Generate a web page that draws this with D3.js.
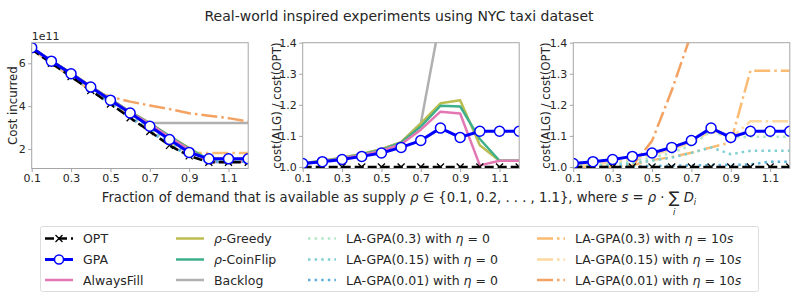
<!DOCTYPE html>
<html>
<head>
<meta charset="utf-8">
<script src="https://cdn.jsdelivr.net/npm/d3@7"></script>
<style>
body { margin: 0; background: #fff; }
text { font-family: 'DejaVu Sans', sans-serif; fill: #262626; }
</style>
</head>
<body>
<div id="app"></div>
<script>
'use strict'

// supply fraction rho
const rho = [0.1, 0.2, 0.3, 0.4, 0.5, 0.6, 0.7, 0.8, 0.9, 1.0, 1.1, 1.2]
const xTicks = [0.1, 0.3, 0.5, 0.7, 0.9, 1.1]
const costTicks = [2, 4, 6]
const ratioTicks = [1.0, 1.1, 1.2, 1.3, 1.4]

// panel 1: cost incurred (x 1e11)
const costOPT       = [6.66, 6.00, 5.38, 4.73, 4.10, 3.46, 2.82, 2.17, 1.68, 1.38, 1.38, 1.38]
const costGPA       = [6.73, 6.10, 5.51, 4.89, 4.28, 3.68, 3.06, 2.44, 1.84, 1.54, 1.54, 1.54]
const costAlwaysFill= [6.73, 6.10, 5.53, 4.91, 4.31, 3.71, 3.16, 2.56, 1.97, 1.39, 1.41, 1.41]
const costGreedy    = [6.74, 6.12, 5.54, 4.93, 4.33, 3.74, 3.21, 2.61, 2.04, 1.48, 1.41, 1.41]
const costCoinFlip  = [6.73, 6.11, 5.53, 4.92, 4.33, 3.73, 3.19, 2.60, 2.01, 1.50, 1.41, 1.41]
const costBacklog   = [6.74, 6.12, 5.54, 4.93, 4.33, 3.74, 3.21, 3.21, 3.21, 3.21, 3.21, 3.21]
const costLA03e0    = [6.67, 6.03, 5.43, 4.82, 4.22, 3.62, 3.02, 2.42, 1.84, 1.51, 1.51, 1.51]
const costLA015e0   = [6.66, 6.01, 5.41, 4.79, 4.18, 3.56, 2.95, 2.31, 1.75, 1.45, 1.45, 1.45]
const costLA001e0   = [6.66, 6.00, 5.38, 4.74, 4.11, 3.47, 2.83, 2.18, 1.69, 1.39, 1.40, 1.40]
const costLA03e10   = [6.66, 6.00, 5.38, 4.75, 4.19, 3.57, 2.95, 2.31, 1.81, 1.81, 1.81, 1.81]
const costLA015e10  = [6.68, 6.05, 5.46, 4.85, 4.26, 3.65, 3.05, 2.42, 1.84, 1.58, 1.58, 1.58]
const costLA001e10  = [6.66, 6.00, 5.38, 4.74, 4.44, 4.21, 4.03, 3.86, 3.67, 3.55, 3.44, 3.28]

// panels 2 and 3: cost(ALG) / cost(OPT)
const ratioOPT       = [1, 1, 1, 1, 1, 1, 1, 1, 1, 1, 1, 1]
const ratioGPA       = [1.011, 1.017, 1.024, 1.034, 1.045, 1.063, 1.085, 1.125, 1.095, 1.115, 1.115, 1.115]
const ratioAlwaysFill= [1.010, 1.017, 1.027, 1.038, 1.052, 1.073, 1.120, 1.178, 1.172, 1.005, 1.020, 1.020]
const ratioGreedy    = [1.012, 1.020, 1.030, 1.042, 1.057, 1.080, 1.140, 1.205, 1.215, 1.070, 1.020, 1.020]
const ratioCoinFlip  = [1.011, 1.018, 1.028, 1.040, 1.055, 1.078, 1.130, 1.197, 1.195, 1.090, 1.020, 1.020]
const ratioBacklog   = [1.012, 1.020, 1.030, 1.042, 1.057, 1.080, 1.140, 1.480, 1.910, 2.330, 2.330, 2.330]
const ratioLA03e0    = [1.002, 1.005, 1.010, 1.018, 1.030, 1.045, 1.070, 1.115, 1.095, 1.097, 1.097, 1.097]
const ratioLA015e0   = [1.000, 1.002, 1.005, 1.012, 1.020, 1.030, 1.045, 1.063, 1.041, 1.052, 1.052, 1.052]
const ratioLA001e0   = [1.000, 1.000, 1.000, 1.002, 1.003, 1.004, 1.005, 1.006, 1.006, 1.008, 1.017, 1.017]
const ratioLA03e10   = [1.000, 1.000, 1.000, 1.005, 1.022, 1.032, 1.046, 1.063, 1.079, 1.310, 1.310, 1.310]
const ratioLA015e10  = [1.003, 1.008, 1.015, 1.025, 1.040, 1.055, 1.080, 1.115, 1.093, 1.147, 1.147, 1.147]
const ratioLA001e10  = [1.000, 1.000, 1.000, 1.003, 1.084, 1.246, 1.430, 1.780, 2.180, 2.570, 2.490, 2.380]

const width = 798
const height = 299
const plotTop = 42.7
const plotBottom = 168.5
const plotW = 216.5
const lefts = [31.7, 302.7, 573.3]

// styles per series
const style = {
	OPT:        { color: '#000000', dash: '9,4', w: 2.5, marker: 'x' },
	GPA:        { color: '#0000ff', dash: null, w: 3, marker: 'o' },
	AlwaysFill: { color: '#e377b4', dash: null, w: 2.5 },
	Greedy:     { color: '#bcbd50', dash: null, w: 2.5 },
	CoinFlip:   { color: '#3daf8a', dash: null, w: 2.5 },
	Backlog:    { color: '#b0b0b0', dash: null, w: 2.5 },
	LA03e0:     { color: '#b3e6c6', dash: '2.5,4.1', w: 2.5 },
	LA015e0:    { color: '#7fd1d1', dash: '2.5,4.1', w: 2.5 },
	LA001e0:    { color: '#5db1da', dash: '2.5,4.1', w: 2.5 },
	LA03e10:    { color: '#fbbb72', dash: '16,4,2.5,4', w: 2.5 },
	LA015e10:   { color: '#fdd9a0', dash: '16,4,2.5,4', w: 2.5 },
	LA001e10:   { color: '#f4a262', dash: '16,4,2.5,4', w: 2.5 }
}

const svg = d3.select('#app').append('svg')
	.attr('width', width)
	.attr('height', height)

svg.append('text')
	.attr('x', 399).attr('y', 20.5)
	.attr('text-anchor', 'middle')
	.style('font-size', '14px')
	.text('Real-world inspired experiments using NYC taxi dataset')

const x = d3.scaleLinear().domain([0.1, 1.2]).range([0, plotW])

const drawPanel = (i, yDomain, yTicks, fmt, series, ylabel, ylabelX) => {
	const y = d3.scaleLinear().domain(yDomain).range([plotBottom - plotTop, 0])
	const g = svg.append('g').attr('transform', `translate(${lefts[i]}, ${plotTop})`)
	const h = plotBottom - plotTop

	g.append('clipPath').attr('id', 'clip' + i)
		.append('rect').attr('width', plotW).attr('height', h)

	const plot = g.append('g').attr('clip-path', `url(#clip${i})`)
	const line = d3.line().x((d, j) => x(rho[j])).y(d => y(d))

	series.forEach(([key, vals]) => {
		const s = style[key]
		plot.append('path')
			.attr('d', line(vals))
			.attr('fill', 'none')
			.attr('stroke', s.color)
			.attr('stroke-width', s.w)
			.attr('stroke-dasharray', s.dash)
			.attr('stroke-linejoin', 'round')
		if (s.marker === 'o') {
			plot.selectAll(null).data(vals).enter().append('circle')
				.attr('cx', (d, j) => x(rho[j])).attr('cy', d => y(d))
				.attr('r', 5).attr('fill', '#fff')
				.attr('stroke', s.color).attr('stroke-width', 1.5)
		}
		if (s.marker === 'x') {
			plot.selectAll(null).data(vals).enter().append('path')
				.attr('d', (d, j) => {
					const cx = x(rho[j]), cy = y(d), r = 3.5
					return `M${cx - r},${cy - r}L${cx + r},${cy + r}M${cx - r},${cy + r}L${cx + r},${cy - r}`
				})
				.attr('stroke', '#000').attr('stroke-width', 1.3)
		}
	})

	// frame
	g.append('rect').attr('width', plotW).attr('height', h)
		.attr('fill', 'none').attr('stroke', '#a6a6a6').attr('stroke-width', 1)

	const xAxis = g.append('g').attr('transform', `translate(0, ${h})`)
		.call(d3.axisBottom(x).tickValues(xTicks).tickSize(3.5).tickPadding(2.5).tickFormat(d3.format('.1f')))
	const yAxis = g.append('g')
		.call(d3.axisLeft(y).tickValues(yTicks).tickSize(3.5).tickPadding(2.5).tickFormat(fmt))
	;[xAxis, yAxis].forEach(a => {
		a.select('.domain').remove()
		a.selectAll('.tick line').attr('stroke', '#a6a6a6')
		a.selectAll('.tick text').style('font-size', '11px').style('font-family', "'DejaVu Sans', sans-serif").attr('fill', '#262626')
	})

	svg.append('text')
		.attr('transform', `translate(${ylabelX}, ${(plotTop + plotBottom) / 2}) rotate(-90)`)
		.attr('text-anchor', 'middle')
		.style('font-size', '11.8px')
		.text(ylabel)
	return y
}

drawPanel(0, [1.09, 6.96], costTicks, d3.format('d'), [
	['Backlog', costBacklog], ['LA001e10', costLA001e10], ['LA03e10', costLA03e10], ['LA015e10', costLA015e10],
	['Greedy', costGreedy], ['CoinFlip', costCoinFlip], ['AlwaysFill', costAlwaysFill],
	['LA03e0', costLA03e0], ['LA015e0', costLA015e0], ['LA001e0', costLA001e0],
	['OPT', costOPT], ['GPA', costGPA]
], 'Cost incurred', 17)

svg.append('text').attr('x', lefts[0]).attr('y', 39.5)
	.style('font-size', '11px').text('1e11')

drawPanel(1, [0.995, 1.4], ratioTicks, d3.format('.1f'), [
	['Backlog', ratioBacklog], ['Greedy', ratioGreedy], ['CoinFlip', ratioCoinFlip],
	['AlwaysFill', ratioAlwaysFill], ['OPT', ratioOPT], ['GPA', ratioGPA]
], 'cost(ALG) / cost(OPT)', 280.5)

drawPanel(2, [0.995, 1.4], ratioTicks, d3.format('.1f'), [
	['LA001e10', ratioLA001e10], ['LA03e10', ratioLA03e10], ['LA015e10', ratioLA015e10],
	['LA03e0', ratioLA03e0], ['LA015e0', ratioLA015e0], ['LA001e0', ratioLA001e0],
	['OPT', ratioOPT], ['GPA', ratioGPA]
], 'cost(ALG) / cost(OPT)', 550)

// x label: one text element; the index of the sum sits below the sign
const fs = 13.2
const measure = (t, size, italic) => {
	const el = svg.append('text').style('font-size', size + 'px')
		.style('font-style', italic ? 'italic' : 'normal').style('white-space', 'pre').text(t)
	const w = el.node().getComputedTextLength()
	el.remove()
	return w
}
const sumW = measure('∑', 16, false)
const iW = measure('i', 8.5, true)
const spW = measure(' ', fs, false)

const xlab = svg.append('text')
	.attr('y', 202)
	.attr('text-anchor', 'middle')
	.style('font-size', fs + 'px')
	.style('white-space', 'pre')
const span = (t, opts) => {
	const s = xlab.append('tspan').text(t)
	if (opts && opts.it) s.style('font-style', 'italic')
	if (opts && opts.size) s.style('font-size', opts.size + 'px')
	if (opts && opts.dx != null) s.attr('dx', opts.dx)
	if (opts && opts.dy != null) s.attr('dy', opts.dy)
	return s
}
span('Fraction of demand that is available as supply ')
span('ρ', { it: true })
span(' ∈ {0.1, 0.2, . . . , 1.1}, where ')
span('s', { it: true })
span(' = ')
span('ρ', { it: true })
span(' · ')
span('∑', { size: 16, dy: 1 })
span('i', { it: true, size: 8.5, dx: -(sumW + iW) / 2, dy: 11.5 })
span('D', { it: true, dx: (sumW - iW) / 2 + spW, dy: -12.5 })
span('i', { it: true, size: 8.5, dy: 3 })
xlab.attr('x', 399)

// legend
const legend = svg.append('g')
legend.append('rect')
	.attr('x', 40.5).attr('y', 226.5).attr('width', 718).attr('height', 65).attr('rx', 2)
	.attr('fill', '#fff').attr('stroke', '#dcdcdc')

const eta0 = n => [[`LA-GPA(${n}) with `], ['η', true], [' = 0']]
const eta10 = n => [[`LA-GPA(${n}) with `], ['η', true], [' = 10'], ['s', true]]
const legendItems = [
	['OPT', [['OPT']]], ['GPA', [['GPA']]], ['AlwaysFill', [['AlwaysFill']]],
	['Greedy', [['ρ', true], ['-Greedy']]], ['CoinFlip', [['ρ', true], ['-CoinFlip']]], ['Backlog', [['Backlog']]],
	['LA03e0', eta0('0.3')], ['LA015e0', eta0('0.15')], ['LA001e0', eta0('0.01')],
	['LA03e10', eta10('0.3')], ['LA015e10', eta10('0.15')], ['LA001e10', eta10('0.01')]
]
const colX = [45, 176, 308, 537]
const rowY = [238.5, 259.5, 280]

legendItems.forEach(([key, label], k) => {
	const s = style[key]
	const cx = colX[Math.floor(k / 3)]
	const cy = rowY[k % 3]
	const item = legend.append('g')
	item.append('line')
		.attr('x1', cx).attr('x2', cx + 28).attr('y1', cy).attr('y2', cy)
		.attr('stroke', s.color).attr('stroke-width', s.w)
		.attr('stroke-dasharray', s.dash)
	if (s.marker === 'o') {
		item.append('circle').attr('cx', cx + 14).attr('cy', cy).attr('r', 4.5)
			.attr('fill', '#fff').attr('stroke', s.color).attr('stroke-width', 1.5)
	}
	if (s.marker === 'x') {
		const r = 3.5, m = cx + 14
		item.append('path')
			.attr('d', `M${m - r},${cy - r}L${m + r},${cy + r}M${m - r},${cy + r}L${m + r},${cy - r}`)
			.attr('stroke', '#000').attr('stroke-width', 1.3)
	}
	const t = item.append('text').attr('x', cx + 38).attr('y', cy + 4.5).style('font-size', '12.5px')
		.style('white-space', 'pre')
	label.forEach(([str, it]) => {
		t.append('tspan').style('font-style', it ? 'italic' : 'normal').text(str)
	})
})
</script>
</body>
</html>
